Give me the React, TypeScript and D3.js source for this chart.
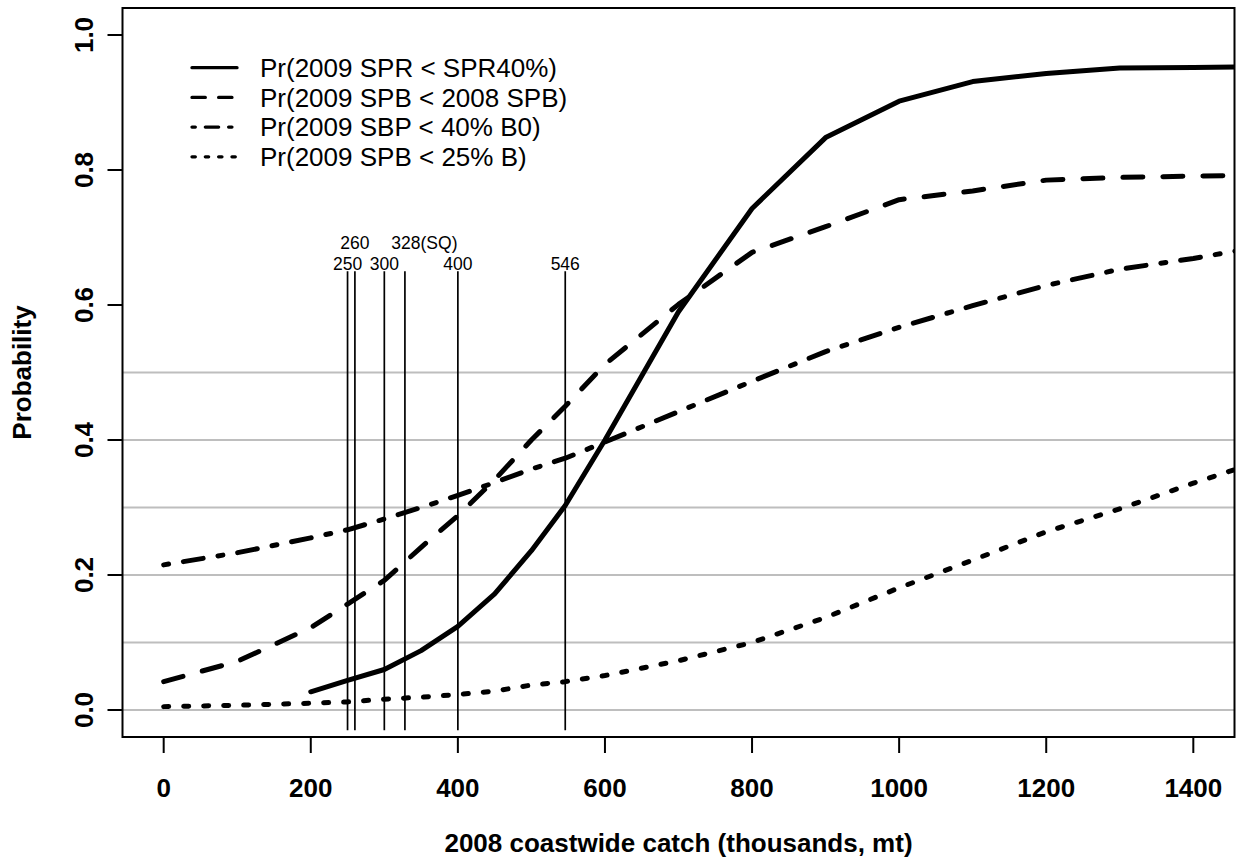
import React from "react";
import * as d3 from "d3";

// ---- Data ----
const catchSPR = [200, 250, 300, 350, 400, 450, 500, 546, 600, 700, 800, 900, 1000, 1100, 1200, 1300, 1400, 1500];
const prSPR = [0.027, 0.044, 0.060, 0.088, 0.124, 0.172, 0.236, 0.303, 0.400, 0.590, 0.743, 0.848, 0.902, 0.931, 0.943, 0.951, 0.952, 0.953];

const catchAll = [0, 100, 200, 250, 300, 350, 400, 450, 500, 546, 600, 700, 800, 900, 1000, 1100, 1200, 1300, 1400, 1500];
const prSPB2008 = [0.042, 0.072, 0.122, 0.157, 0.192, 0.241, 0.288, 0.341, 0.400, 0.450, 0.512, 0.601, 0.678, 0.716, 0.756, 0.769, 0.785, 0.789, 0.791, 0.792];
const prB40 = [0.215, 0.233, 0.255, 0.267, 0.283, 0.300, 0.318, 0.337, 0.357, 0.373, 0.397, 0.442, 0.487, 0.531, 0.567, 0.599, 0.629, 0.653, 0.669, 0.688];
const prB25 = [0.005, 0.007, 0.010, 0.012, 0.016, 0.019, 0.023, 0.028, 0.037, 0.042, 0.051, 0.073, 0.100, 0.137, 0.181, 0.222, 0.264, 0.298, 0.336, 0.372];

const legendLabels = [
  "Pr(2009 SPR < SPR40%)",
  "Pr(2009 SPB < 2008 SPB)",
  "Pr(2009 SBP < 40% B0)",
  "Pr(2009 SPB < 25% B)",
];

const refCatches = [250, 260, 300, 328, 400, 546];
const refLabels = ["250", "260", "300", "328(SQ)", "400", "546"];
const refLabelRow = [2, 1, 2, 1, 2, 2];

const gridLevels = [0, 0.1, 0.2, 0.3, 0.4, 0.5];
const xTicks = [0, 200, 400, 600, 800, 1000, 1200, 1400];
const yTicks = [0, 0.2, 0.4, 0.6, 0.8, 1.0];

// ---- Layout ----
const W = 1238;
const H = 862;
const left = 122.5, right = 1234.5, top = 8, bottom = 737;
const FONT = "'Liberation Sans', Arial, Helvetica, sans-serif";

const x = d3.scaleLinear().domain([-56, 1456]).range([left, right]);
const y = d3.scaleLinear().domain([-0.04, 1.04]).range([bottom, top]);

const K = 5; // dash scale for main lines
const KL = 3.33; // dash scale for legend lines
const dashMain = [null, `${4 * K} ${4 * K}`, `${1 * K} ${3 * K} ${4 * K} ${3 * K}`, `${1 * K} ${3 * K}`];
const dashLeg = [null, `${4 * KL} ${4 * KL}`, `${1 * KL} ${3 * KL} ${4 * KL} ${3 * KL}`, `${1 * KL} ${3 * KL}`];

export default function App() {
  const line = d3
    .line<[number, number]>()
    .x((d) => x(d[0]))
    .y((d) => y(d[1]));

  const series: [number, number][][] = [
    catchSPR.map((c, i) => [c, prSPR[i]]),
    catchAll.map((c, i) => [c, prSPB2008[i]]),
    catchAll.map((c, i) => [c, prB40[i]]),
    catchAll.map((c, i) => [c, prB25[i]]),
  ];

  return (
    <svg
      width={W}
      height={H}
      viewBox={`0 0 ${W} ${H}`}
      style={{ position: "absolute", left: 0, top: 0, background: "#fff" }}
      fontFamily={FONT}
    >
      <rect x={0} y={0} width={W} height={H} fill="#fff" />
      <defs>
        <clipPath id="plotclip">
          <rect x={left} y={top} width={right - left} height={bottom - top} />
        </clipPath>
      </defs>

      {/* grid lines */}
      {gridLevels.map((g) => (
        <line key={g} x1={left} x2={right} y1={y(g)} y2={y(g)} stroke="#bebebe" strokeWidth={2} />
      ))}

      {/* reference vertical lines */}
      {refCatches.map((c) => (
        <line key={c} x1={x(c)} x2={x(c)} y1={y(-0.03)} y2={y(0.65)} stroke="#000" strokeWidth={1.7} />
      ))}
      {refCatches.map((c, i) => (
        <text
          key={"t" + c}
          x={x(c) + (refLabels[i].length > 3 ? 19.5 : 0)}
          y={refLabelRow[i] === 2 ? 270 : 248.5}
          textAnchor="middle"
          fontSize={17.5}
          fill="#000"
        >
          {refLabels[i]}
        </text>
      ))}

      {/* data lines */}
      <g clipPath="url(#plotclip)">
        {series.map((s, i) => (
          <path
            key={i}
            d={line(s) || ""}
            fill="none"
            stroke="#000"
            strokeWidth={5}
            strokeLinecap="round"
            strokeLinejoin="round"
            strokeDasharray={dashMain[i] || undefined}
          />
        ))}
      </g>

      {/* box */}
      <rect x={left} y={top} width={right - left} height={bottom - top} fill="none" stroke="#000" strokeWidth={2} />

      {/* x axis */}
      {xTicks.map((t) => (
        <g key={t}>
          <line x1={x(t)} x2={x(t)} y1={bottom} y2={bottom + 16} stroke="#000" strokeWidth={2} />
          <text x={x(t)} y={797} textAnchor="middle" fontSize={26} fontWeight="bold" fill="#000">
            {t}
          </text>
        </g>
      ))}

      {/* y axis */}
      {yTicks.map((t) => (
        <g key={t}>
          <line x1={left} x2={left - 15} y1={y(t)} y2={y(t)} stroke="#000" strokeWidth={2} />
          <text
            transform={`translate(93, ${y(t)}) rotate(-90)`}
            textAnchor="middle"
            fontSize={26}
            fontWeight="bold"
            fill="#000"
          >
            {t.toFixed(1)}
          </text>
        </g>
      ))}

      {/* axis titles */}
      <text x={(left + right) / 2} y={852} textAnchor="middle" fontSize={26} fontWeight="bold" fill="#000">
        2008 coastwide catch (thousands, mt)
      </text>
      <text
        transform={`translate(31, ${(top + bottom) / 2}) rotate(-90)`}
        textAnchor="middle"
        fontSize={26}
        fontWeight="bold"
        fill="#000"
      >
        Probability
      </text>

      {/* legend */}
      {legendLabels.map((lab, i) => {
        const ly = 67.7 + i * 29.7;
        return (
          <g key={lab}>
            <line
              x1={192}
              x2={237}
              y1={ly}
              y2={ly}
              stroke="#000"
              strokeWidth={3.3}
              strokeLinecap="round"
              strokeDasharray={dashLeg[i] || undefined}
            />
            <text x={260} y={ly} dy="0.36em" fontSize={26} fill="#000">
              {lab}
            </text>
          </g>
        );
      })}
    </svg>
  );
}
